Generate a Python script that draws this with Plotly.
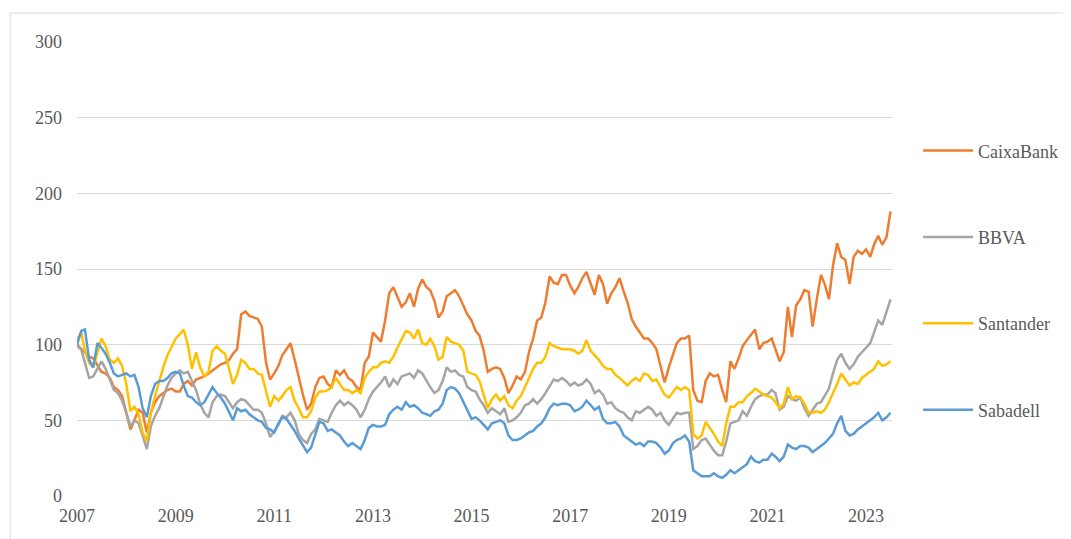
import pandas as pd
import plotly.graph_objects as go

# monthly index levels (base 100 = Jan 2007)
dates = pd.date_range("2007-01-01", periods=199, freq="MS")

caixabank = [
    100, 97, 95, 92, 91, 86, 82, 81, 78, 72, 70, 66,
    55, 44, 50, 57, 55, 42, 55, 62, 66, 68, 70, 71,
    69, 69, 74, 76, 73, 77, 78, 79, 81, 83, 85, 87,
    88, 90, 94, 97, 120, 122, 119, 118, 117, 112, 88, 77,
    81, 86, 93, 97, 101, 90, 78, 67, 57, 61, 72, 78,
    79, 74, 72, 83, 80, 83, 78, 76, 72, 70, 88, 92,
    108, 105, 102, 116, 134, 138, 132, 125, 128, 134, 125, 137,
    143, 138, 136, 129, 118, 122, 132, 134, 136, 132, 126, 120,
    116, 109, 106, 96, 82, 84, 85, 84, 78, 68, 73, 79,
    77, 82, 95, 104, 116, 118, 128, 145, 141, 140, 146, 146,
    139, 134, 138, 144, 148, 141, 133, 146, 140, 127, 134, 138,
    144, 135, 128, 117, 112, 108, 104, 104, 101, 97, 86, 75,
    85, 93, 101, 104, 104, 106, 70, 63, 62, 76, 81, 79,
    80, 70, 62, 89, 84, 91, 99, 103, 107, 110, 97, 101,
    102, 104, 97, 89, 95, 125, 105, 126, 130, 136, 135, 112,
    130, 146, 140, 130, 152, 167, 158, 156, 140, 158, 162, 160,
    163, 158, 166, 172, 166, 171, 188,
]

bbva = [
    99, 97, 88, 78, 79, 84, 89, 84, 77, 70, 68, 63,
    55, 46, 50, 48, 40, 31, 46, 53, 58, 66, 73, 78,
    81, 83, 81, 82, 76, 70, 61, 55, 52, 62, 66, 67,
    66, 62, 58, 62, 64, 63, 60, 57, 57, 55, 48, 39,
    43, 47, 53, 52, 55, 50, 41, 37, 35, 41, 44, 51,
    50, 49, 55, 60, 63, 60, 62, 60, 57, 52, 57, 64,
    69, 72, 75, 79, 72, 77, 74, 79, 80, 81, 78, 83,
    81, 76, 72, 68, 70, 76, 85, 82, 83, 80, 79, 72,
    70, 69, 64, 60, 55, 58, 56, 54, 58, 49, 50, 52,
    55, 60, 61, 64, 61, 64, 68, 73, 77, 76, 78, 76,
    73, 75, 73, 74, 77, 74, 68, 70, 67, 61, 62, 58,
    56, 55, 52, 50, 56, 55, 57, 59, 57, 53, 55, 50,
    47, 51, 55, 54, 55, 55, 31, 33, 37, 38, 34, 30,
    27, 27, 36, 48, 49, 50, 56, 53, 59, 64, 66, 67,
    67, 70, 68, 57, 59, 66, 64, 63, 65, 58, 53, 57,
    61, 62, 66, 71, 81, 90, 94, 88, 84, 87, 92, 95,
    98, 101, 108, 116, 113, 122, 130,
]

santander = [
    103, 108, 96, 88, 85, 94, 104, 99, 90, 88, 91, 86,
    74, 56, 59, 54, 42, 36, 55, 66, 76, 85, 93, 98,
    104, 107, 110, 100, 84, 95, 85, 79, 82, 96, 99, 96,
    94, 84, 74, 80, 90, 88, 84, 84, 81, 80, 69, 59,
    66, 63, 66, 70, 72, 63, 58, 52, 52, 56, 65, 69,
    69, 70, 72, 78, 74, 70, 70, 68, 70, 68, 78, 82,
    85, 85, 88, 89, 88, 92, 98, 103, 109, 108, 104, 110,
    101, 100, 104, 99, 90, 92, 105, 102, 101, 100, 96, 82,
    81, 80, 76, 66, 58, 64, 67, 63, 66, 60, 58, 63,
    66, 72, 78, 84, 88, 88, 92, 101, 99, 98, 97, 97,
    97, 96, 94, 96, 103, 96, 93, 90, 86, 84, 84, 80,
    78, 75, 73, 76, 78, 76, 81, 80, 76, 77, 72, 67,
    65, 69, 72, 70, 72, 70, 41, 38, 40, 49, 45, 41,
    36, 33, 48, 59, 59, 62, 62, 66, 68, 71, 69, 67,
    66, 65, 62, 58, 61, 72, 64, 66, 65, 61, 55, 55,
    56, 55, 57, 62, 68, 74, 81, 77, 73, 75, 74, 78,
    80, 82, 84, 89, 86, 87, 89,
]

sabadell = [
    100, 109, 110, 90, 85, 101, 98, 94, 88, 81, 79, 80,
    81, 79, 80, 72, 58, 52, 66, 74, 76, 76, 78, 81,
    82, 81, 73, 66, 65, 62, 60, 62, 67, 72, 68, 65,
    61, 55, 50, 58, 56, 57, 54, 52, 50, 49, 45, 44,
    42, 48, 52, 51, 47, 43, 38, 33, 29, 32, 40, 49,
    48, 43, 44, 42, 40, 36, 33, 35, 33, 31, 37, 45,
    47, 46, 46, 47, 54, 57, 59, 57, 62, 59, 60, 58,
    55, 54, 53, 56, 57, 61, 70, 72, 71, 68, 62, 57,
    51, 52, 50, 47, 44, 48, 49, 50, 48, 40, 37, 37,
    38, 40, 42, 43, 46, 48, 52, 58, 61, 60, 61, 61,
    60, 56, 57, 59, 63, 60, 57, 59, 51, 48, 48, 49,
    46, 40, 38, 36, 34, 35, 33, 36, 36, 35, 32, 28,
    30, 35, 37, 38, 40, 36, 17, 15, 13, 13, 13, 15,
    13, 12, 14, 17, 15, 17, 19, 21, 26, 23, 22, 24,
    24, 28, 26, 23, 26, 34, 32, 31, 33, 33, 32, 29,
    31, 33, 35, 38, 41, 48, 53, 43, 40, 41, 44, 46,
    48, 50, 52, 55, 50, 52, 55,
]

names = ["CaixaBank", "BBVA", "Santander", "Sabadell"]
colors = ["#ED7D31", "#A5A5A5", "#FFC000", "#5B9BD5"]
series = [caixabank, bbva, santander, sabadell]

font = "Liberation Serif, Times New Roman, serif"

fig = go.Figure()
for name, color, vals in zip(names, colors, series):
    fig.add_trace(go.Scatter(
        x=dates, y=vals, name=name, mode="lines",
        line=dict(color=color, width=2.5),
        legendgroup=name,
    ))

# page body keeps an 8px margin, so the figure is 8px smaller
fig.update_layout(
    width=1063, height=531,
    margin=dict(l=69, r=179, t=34, b=43, autoexpand=False),
    paper_bgcolor="white", plot_bgcolor="white",
    font=dict(family=font, size=18, color="#595959"),
    showlegend=True,
    legend=dict(
        x=1.032, xanchor="left", y=0.475, yanchor="middle",
        traceorder="grouped", tracegroupgap=60,
        font=dict(family=font, size=18, color="#595959"),
        itemwidth=50,
    ),
    shapes=[dict(
        type="rect", xref="paper", yref="paper",
        x0=-0.082, x1=1.4, y0=-0.3, y1=1.064,
        line=dict(color="#D9D9D9", width=1),
    )],
)

fig.update_xaxes(
    range=["2007-01-01", "2023-07-12"],
    tickvals=[f"{y}-01-01" for y in range(2007, 2024, 2)],
    ticktext=[str(y) for y in range(2007, 2024, 2)],
    showgrid=False, zeroline=False,
    showline=False, ticks="", ticklabelstandoff=7,
)
fig.update_yaxes(
    range=[0, 300], dtick=50,
    showgrid=True, gridcolor="#D9D9D9", gridwidth=1,
    zeroline=False, showline=False, ticks="",
    ticklabelstandoff=14,
)

fig.write_html("out.html")
